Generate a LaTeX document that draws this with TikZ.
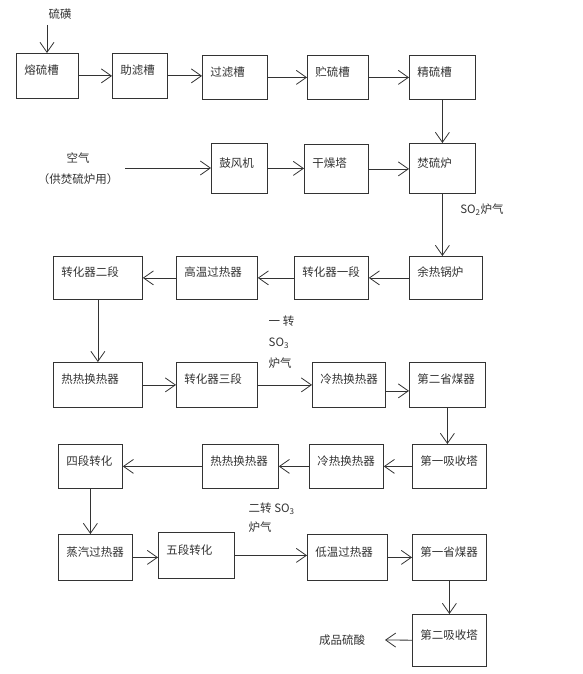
\documentclass[tikz,border=0pt]{standalone}
\usepackage{fontspec}
\setmainfont{Noto Sans CJK SC}
\usetikzlibrary{arrows.meta}
\definecolor{ink}{HTML}{333333}

\begin{document}
\begin{tikzpicture}[x=1pt, y=-1pt, line width=0.8pt, draw=ink, text=ink,
  font=\fontsize{11.5}{13}\selectfont,
  >={Straight Barb[length=10pt,width=14pt]},
  box/.style = {draw, anchor=north west, align=left, inner xsep=8pt, text height=8pt, text depth=10pt},
  note/.style = {align=left, font=\fontsize{11.5}{21}\selectfont}]
\useasboundingbox (0,0) rectangle (582,674);
% first row
\node[box, text width=46pt, minimum height=45pt] (rong) at (16,53) {熔硫槽};
\node[box, text width=39pt, minimum height=45pt] (zhulv) at (112,53) {助滤槽};
\node[box, text width=49pt, minimum height=44pt] (guolv) at (202,55) {过滤槽};
\node[box, text width=45pt, minimum height=44pt] (zhuliu) at (307,55) {贮硫槽};
\node[box, text width=50pt, minimum height=44pt] (jingliu) at (409,55) {精硫槽};
% second row
\node[box, text width=40pt, minimum height=50pt] (gufeng) at (211,143) {鼓风机};
\node[box, text width=48pt, minimum height=49pt] (ganzao) at (304,144) {干燥塔};
\node[box, text width=50pt, minimum height=50pt] (fenliu) at (409,143) {焚硫炉};
% third row
\node[box, text width=73pt, minimum height=43pt] (zhuan2) at (53,256) {转化器二段};
\node[box, text width=65pt, minimum height=43pt] (gaowen) at (176,256) {高温过热器};
\node[box, text width=58pt, minimum height=43pt] (zhuan1) at (294,256) {转化器一段};
\node[box, text width=57pt, minimum height=43pt] (yure) at (409,256) {余热锅炉};
% fourth row
\node[box, text width=73pt, minimum height=45pt] (rere1) at (53,362) {热热换热器};
\node[box, text width=65pt, minimum height=45pt] (zhuan3) at (176,362) {转化器三段};
\node[box, text width=57pt, minimum height=45pt] (lengre1) at (312,362) {冷热换热器};
\node[box, text width=60pt, minimum height=45pt] (sheng2) at (409,362) {第二省煤器};
% fifth row
\node[box, text width=48pt, minimum height=44pt] (duan4) at (58,444) {四段转化};
\node[box, text width=60pt, minimum height=44pt] (rere2) at (202,444) {热热换热器};
\node[box, text width=58pt, minimum height=44pt] (lengre2) at (309,444) {冷热换热器};
\node[box, text width=58pt, minimum height=44pt] (xishou1) at (412,444) {第一吸收塔};
% sixth row
\node[box, text width=58pt, minimum height=46pt] (zhengqi) at (58,534) {蒸汽过热器};
\node[box, text width=60pt, minimum height=46pt] (duan5) at (158,532) {五段转化};
\node[box, text width=64pt, minimum height=46pt] (diwen) at (307,534) {低温过热器};
\node[box, text width=58pt, minimum height=46pt] (sheng1) at (412,534) {第一省煤器};
\node[box, text width=58pt, minimum height=52pt] (xishou2) at (412,614) {第二吸收塔};
% labels
\node (sulfur) at (60,14) {硫磺};
\coordinate (s0) at (47,25);
\node[note, align=center] (air) at (78,169) {空气\\（供焚硫炉用）};
\coordinate (airend) at (125,168);
\node (so2) at (482,210) {SO\textsubscript{2}炉气};
\node[note, anchor=north west] (gas1) at (265,312) {一 转\\SO\textsubscript{3}\\炉气};
\node[note, anchor=north west, font=\fontsize{11.5}{19}\selectfont] (gas2) at (245,499) {二转 SO\textsubscript{3}\\炉气};
\node (product) at (342,640) {成品硫酸};
\coordinate (pend) at (385,640);
% connectors
\draw[->] (s0) -- (s0 |- rong.north);
\draw[->] (rong) -- (rong -| zhulv.west);
\draw[->] (zhulv) -- (zhulv -| guolv.west);
\draw[->] (guolv) -- (guolv -| zhuliu.west);
\draw[->] (zhuliu) -- (zhuliu -| jingliu.west);
\draw[->] (jingliu) -- (jingliu |- fenliu.north);
\draw[->] (airend) -- (airend -| gufeng.west);
\draw[->] (gufeng) -- (gufeng -| ganzao.west);
\draw[->] (ganzao) -- (ganzao -| fenliu.west);
\draw[->] (fenliu) -- (fenliu |- yure.north);
\draw[->] (yure) -- (yure -| zhuan1.east);
\draw[->] (zhuan1) -- (zhuan1 -| gaowen.east);
\draw[->] (gaowen) -- (gaowen -| zhuan2.east);
\draw[->] (zhuan2) -- (zhuan2 |- rere1.north);
\draw[->] (rere1) -- (rere1 -| zhuan3.west);
\draw[->] (zhuan3) -- (zhuan3 -| lengre1.west);
\draw[->] ([yshift=-6pt]lengre1.east) -- ([yshift=-6pt]lengre1.east -| sheng2.west);
\draw[->] (sheng2) -- (sheng2 |- xishou1.north);
\draw[->] (xishou1) -- (xishou1 -| lengre2.east);
\draw[->] (lengre2) -- (lengre2 -| rere2.east);
\draw[->] (rere2) -- (rere2 -| duan4.east);
\draw[->] (duan4) -- (duan4 |- zhengqi.north);
\draw[->] (zhengqi) -- (zhengqi -| duan5.west);
\draw[->] (duan5) -- (duan5 -| diwen.west);
\draw[->] (diwen) -- (diwen -| sheng1.west);
\draw[->] (sheng1) -- (sheng1 |- xishou2.north);
\draw[->] (xishou2) -- (pend);
\end{tikzpicture}
\end{document}
